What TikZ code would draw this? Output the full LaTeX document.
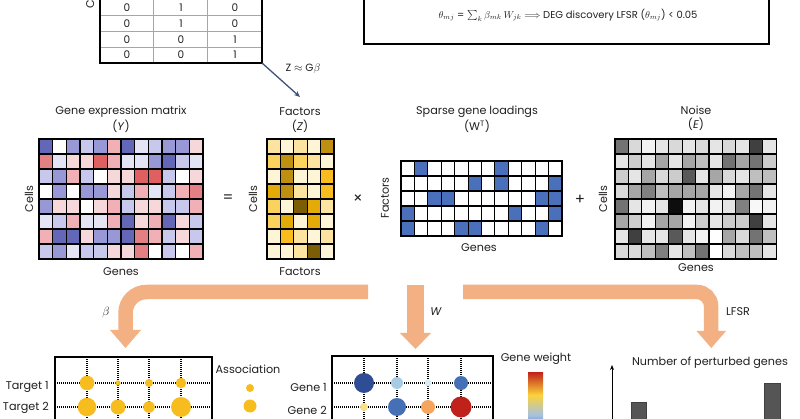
\documentclass[tikz,border=0pt]{standalone}
\usepackage{fontspec}
\setmainfont{Poppins}
\usetikzlibrary{arrows.meta}

\definecolor{ink}{HTML}{231F20}
\definecolor{flowc}{HTML}{F3B183}
\definecolor{linkc}{HTML}{3D5378}
\definecolor{wt}{HTML}{FFFFFF}
\definecolor{bl1}{HTML}{E4E4F4}
\definecolor{bl2}{HTML}{C8C8EC}
\definecolor{bl3}{HTML}{9898D6}
\definecolor{bl4}{HTML}{6466B8}
\definecolor{rd1}{HTML}{F6D8DA}
\definecolor{rd2}{HTML}{F0B0B6}
\definecolor{rd3}{HTML}{E48084}
\definecolor{rd4}{HTML}{E06062}
\definecolor{yl0}{HTML}{FEF4D6}
\definecolor{yl1}{HTML}{FDE3A0}
\definecolor{yl2}{HTML}{FBD35C}
\definecolor{yl3}{HTML}{F8BC1E}
\definecolor{yl4}{HTML}{E3AA08}
\definecolor{yl5}{HTML}{BF8F12}
\definecolor{yl6}{HTML}{7A5D05}
\definecolor{loadc}{HTML}{4A70BC}
\definecolor{assoc}{HTML}{F7BC1E}
\definecolor{wdark}{HTML}{2E4D94}
\definecolor{wmid}{HTML}{4670B6}
\definecolor{wlight}{HTML}{A7CBE4}
\definecolor{wpale}{HTML}{D6EDF5}
\definecolor{wyel}{HTML}{FBE08C}
\definecolor{worange}{HTML}{F6A55E}
\definecolor{wred}{HTML}{C0221B}
\definecolor{cbor}{HTML}{F28C28}
\definecolor{cbyel}{HTML}{FCD23A}
\definecolor{cbpale}{HTML}{F4F6E8}
\definecolor{cblb}{HTML}{A7C2E0}
\definecolor{barc}{HTML}{555555}

\tikzset{
  cellbox/.style={draw=black, line width=1.1pt},
  flowband/.style={draw=flowc, line width=14.5pt},
  flowhead/.style={fill=flowc},
  dotgrid/.style={draw=black, line width=1.1pt, dash pattern=on 1pt off 1pt},
  small/.style={font=\fontsize{10.5}{12}\selectfont},
  opsign/.style={font=\fontsize{15}{16}\selectfont},
  rowlab/.style={anchor=east, inner sep=0pt},
}

\begin{document}
\begin{tikzpicture}[x=1pt, y=-1pt,
    every node/.style={text=ink, font=\fontsize{11.2}{13}\selectfont}]

    \useasboundingbox (0,0) rectangle (800,419);
    \clip (0,0) rectangle (800,419);

    % 顶部矩阵 G
    \foreach \yy in {15.7,31.5,47.2}
        \draw[gray!70, line width=0.8pt] (100,\yy) -- (262,\yy);
    \foreach \xx in {153,207}
        \draw[gray!70, line width=0.8pt] (\xx,-5) -- (\xx,63);
    \draw[line width=1.3pt] (100,-5) -- (100,63) -- (262,63) -- (262,-5);
    \foreach \row [count=\r] in {{0,1,0},{0,1,0},{0,0,1},{0,0,1}}
        \foreach \v [count=\c] in \row
            \node[small] (g\r\c) at ({100+(\c-0.5)*54},{-0.5+(\r-0.5)*15.9}) {\v};
    \node[rotate=90, anchor=west, inner sep=0pt] (gcells) at (90,9) {Cells};

    % Z = G beta
    \coordinate (gcorner) at (262,63);
    \coordinate (ztop) at (300,97);
    \draw[-{Stealth[length=6pt,width=5pt]}, draw=linkc, line width=1.3pt] (gcorner) -- (ztop);
    \node[small] (zlab) at (303,69) {Z $\approx$ G$\beta$};

    % 公式框
    \draw[line width=1.2pt] (364,-10) rectangle (769,44);
    \node[font=\fontsize{10}{12}\selectfont] (formula) at (568,15)
        {$\theta_{mj}$ = $\sum_k \beta_{mk}\, W_{jk} \Longrightarrow$ DEG discovery LFSR ($\theta_{mj}$) < 0.05};

    % 表达矩阵 Y
    \begin{scope}[shift={(39,139)}]
        \foreach \row [count=\r] in {
            {bl4,wt,bl3,bl2,bl3,rd2,bl4,bl1,bl2,bl3,bl3,rd1},
            {rd3,bl1,rd1,rd1,rd4,rd2,bl1,bl1,bl3,bl4,bl2,bl1},
            {bl2,bl3,rd2,bl2,wt,rd1,rd1,rd4,rd4,bl2,wt,rd1},
            {wt,bl3,wt,bl3,bl3,rd1,bl2,rd2,bl1,bl2,rd2,rd3},
            {bl3,rd1,rd1,wt,rd1,rd2,bl2,rd1,rd1,bl2,bl2,rd2},
            {bl1,bl2,rd2,bl1,bl1,rd2,bl4,rd1,rd2,bl4,rd1,bl2},
            {rd2,bl4,bl4,rd1,bl3,bl3,bl4,rd3,rd2,bl2,rd1,bl2},
            {bl2,bl3,bl1,bl2,bl2,rd1,rd1,rd3,wt,bl2,wt,rd2}}
            \foreach \cc [count=\c] in \row
                \filldraw[cellbox, fill=\cc] ({(\c-1)*13.67},{(\r-1)*15}) rectangle ++(13.67,15);
    \end{scope}
    \node (ytitle) at (121,112) {Gene expression matrix};
    \node (ysym) at (121,126) {(\textit{Y})};
    \node[rotate=90] (ycells) at (29,199) {Cells};
    \node (ygenes) at (121,272) {Genes};
    \node[opsign] (eq) at (228,199) {=};

    % 因子 Z
    \begin{scope}[shift={(267,139)}]
        \foreach \row [count=\r] in {
            {yl1,yl0,yl1,yl0,yl5},
            {yl2,yl5,yl2,yl1,yl0},
            {yl0,yl5,yl0,yl0,yl3},
            {yl4,yl5,yl1,yl0,yl3},
            {yl2,yl0,yl6,yl4,yl1},
            {yl2,yl4,yl0,yl4,yl0},
            {yl0,yl3,yl1,yl0,yl1},
            {yl0,yl0,yl1,yl6,yl0}}
            \foreach \cc [count=\c] in \row
                \filldraw[cellbox, fill=\cc] ({(\c-1)*13.4},{(\r-1)*15}) rectangle ++(13.4,15);
    \end{scope}
    \node (ztitle) at (300,112) {Factors};
    \node (zsym) at (300,126) {(\textit{Z})};
    \node[rotate=90] (zcells) at (253,199) {Cells};
    \node (zfactors) at (300,272) {Factors};
    \node[opsign] (times) at (358,199) {×};

    % 稀疏载荷 W^T
    \begin{scope}[shift={(401,161)}]
        \foreach \r in {1,...,5}
            \foreach \c in {1,...,12}
                \filldraw[cellbox, fill=white] ({(\c-1)*13.42},{(\r-1)*15}) rectangle ++(13.42,15);
        \foreach \r/\c in {1/2,1/8,2/6,2/8,2/12,3/3,3/4,3/11,3/12,4/1,4/9,4/12,5/1,5/5,5/6,5/11}
            \filldraw[cellbox, fill=loadc] ({(\c-1)*13.42},{(\r-1)*15}) rectangle ++(13.42,15);
    \end{scope}
    \node (wtitle) at (477,112) {Sparse gene loadings};
    \node (wsym) at (477,126) {(W$^{\mathrm{T}}$)};
    \node[rotate=90] (wfactors) at (385,198) {Factors};
    \node (wgenes) at (479,248) {Genes};
    \node[opsign] (plus) at (580,200) {+};

    % 噪声 E
    \begin{scope}[shift={(615,139)}]
        \foreach \row [count=\r] in {
            {55,15,5,10,15,10,15,10,15,10,75,10},
            {10,20,10,35,10,35,25,10,55,35,55,20},
            {20,10,35,15,20,65,10,35,15,10,25,25},
            {15,35,50,25,35,35,35,10,5,35,55,10},
            {55,10,5,10,95,5,10,5,10,50,3,5},
            {35,20,5,35,35,5,20,10,20,20,75,10},
            {10,75,10,10,65,10,5,0,35,15,55,25},
            {15,15,25,50,10,25,55,0,15,25,25,10}}
            \foreach \g [count=\c] in \row
                \filldraw[cellbox, fill=black!\g] ({(\c-1)*13.42},{(\r-1)*15}) rectangle ++(13.42,15);
    \end{scope}
    \node (etitle) at (696,110) {Noise};
    \node (esym) at (696,124) {(\textit{E})};
    \node[rotate=90] (ecells) at (603,199) {Cells};
    \node (egenes) at (696,268) {Genes};

    % 橙色箭头
    \draw[flowband, rounded corners=21pt] (368,292) -- (125.5,292) -- (125.5,332);
    \fill[flowhead] (110,330) -- (141,330) -- (125.5,348) -- cycle;
    \draw[flowc, line width=16.5pt] (415.5,285) -- (415.5,334);
    \fill[flowhead] (400,333) -- (431,333) -- (415.5,349) -- cycle;
    \draw[flowband, rounded corners=14pt] (463,292) -- (711,292) -- (711,332);
    \fill[flowhead] (696.5,331) -- (726,331) -- (711.3,348) -- cycle;
    \node[font=\fontsize{13}{14}\selectfont] (betalab) at (106,313) {$\beta$};
    \node (wlab) at (436,312) {\textit{W}};
    \node (lfsrlab) at (738,312) {LFSR};

    % 关联点图
    \draw[line width=1.2pt] (55,440) -- (55,357) -- (212,357) -- (212,440);
    \foreach \xx in {87,118,149,181}
        \draw[dotgrid] (\xx,357) -- (\xx,430);
    \foreach \yy in {383,407}
        \draw[dotgrid] (55,\yy) -- (212,\yy);
    \fill[assoc] (87,383) circle (7.3) (118,383) circle (2.7) (149,383) circle (4) (181,383) circle (5.3);
    \fill[assoc] (87,407) circle (9.3) (118,407) circle (7.5) (149,407) circle (5.8) (181,407) circle (10);
    \node[rowlab] (t1) at (49,387) {Target 1};
    \node[rowlab] (t2) at (49,408) {Target 2};
    \node (assoclab) at (248,369) {Association};
    \fill[assoc] (250,388) circle (4) (250,406) circle (6.5);

    % 基因权重点图
    \draw[line width=1.2pt] (332,440) -- (332,356) -- (493,356) -- (493,440);
    \foreach \xx in {364,397,428,461}
        \draw[dotgrid] (\xx,356) -- (\xx,430);
    \foreach \yy in {383,407}
        \draw[dotgrid] (332,\yy) -- (493,\yy);
    \fill[wdark] (364,383) circle (10);
    \fill[wlight] (397,383) circle (6);
    \fill[wpale] (428,383) circle (3.5);
    \fill[wmid] (461,383) circle (7);
    \fill[wyel] (364,407) circle (4);
    \fill[wmid] (397,407) circle (9);
    \fill[worange] (428,407) circle (7);
    \fill[wred] (461,407) circle (10.5);
    \node[rowlab] (gene1) at (327,388) {Gene 1};
    \node[rowlab] (gene2) at (327,410) {Gene 2};
    \node (gwlab) at (536,359) {Gene weight};
    \shade[top color=wred, middle color=cbor, bottom color=cbyel] (528,372) rectangle (543,395);
    \shade[top color=cbyel, middle color=cbpale, bottom color=cblb] (528,395) rectangle (543,415);
    \shade[top color=cblb, bottom color=wmid] (528,415) rectangle (543,430);

    % 柱状图
    \coordinate (axbot) at (612,430);
    \coordinate (axtop) at (612,365);
    \draw[-{Stealth[length=5pt,width=4pt]}, line width=0.9pt] (axbot) -- (axtop);
    \node (nplab) at (710,363) {Number of perturbed genes};
    \filldraw[fill=barc, draw=black!75] (631,402) rectangle (646,430);
    \filldraw[fill=barc, draw=black!75] (764,383) rectangle (780,430);

\end{tikzpicture}
\end{document}
